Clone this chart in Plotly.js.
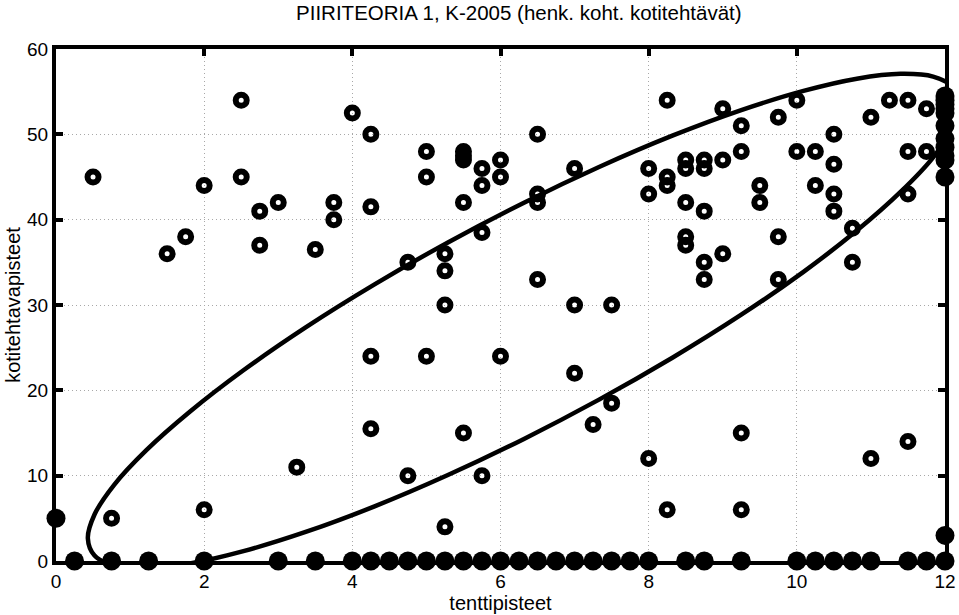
<!DOCTYPE html>
<html>
<head>
<meta charset="utf-8">
<script src="https://cdn.plot.ly/plotly-3.0.1.min.js"></script>
<style>html,body{margin:0;padding:0;background:#fff;}#chart{width:959px;height:615px;}</style>
</head>
<body>
<div id="chart"></div>
<script>
// Ring markers (students with both exam and homework points)
const ringX = [0.5,2.5,2.5,2,1.75,1.5,2.75,3,2.75,3.5,3.75,3.75,4,4.25,4.25,5,5,5.5,5.5,5.5,5.5,5.75,5.75,6,6,5.75,5.25,5.25,4.75,5.25,
  6.5,7,6.5,6.5,6.5,8.25,9,9.25,9.75,10,9.25,9,8,8,8.25,8.25,8.5,8.5,8.75,8.75,8.5,8.75,8.5,8.5,8.75,9,8.75,9.5,9.5,9.75,9.75,10,10.25,10.5,10.5,10.25,10.5,10.5,10.75,10.75,11,11.25,11.5,11.75,11.5,11.75,11.5,
  0.75,2,3.25,4.25,5,6,4.25,5.5,4.75,5.75,5.25,7,7.5,7,7.5,7.25,8,8.25,9.25,9.25,11,11.5];
const ringY = [45,54,45,44,38,36,41,42,37,36.5,42,40,52.5,50,41.5,48,45,48,47.5,47,42,46,44,47,45,38.5,36,34,35,30,
  50,46,43,42,33,54,53,51,52,54,48,47,46,43,45,44,47,46,47,46,42,41,38,37,35,36,33,44,42,38,33,48,48,50,46.5,44,43,41,39,35,52,54,54,53,48,48,43,
  5,6,11,24,24,24,15.5,15,10,10,4,30,30,22,18.5,16,12,6,15,6,12,14];

// Filled markers (points on the plot boundary)
const dotX = [0.25,0.75,1.25,2,3,3.5,4,4.25,4.5,4.75,5,5.25,5.5,5.75,6,6.25,6.5,6.75,7,7.25,7.5,7.75,8,8.5,8.75,9.25,10,10.25,10.5,10.75,11,11.5,11.75,12,
  0,12,12,12,12,12,12,12,12,12,12,12,12];
const dotY = [0,0,0,0,0,0,0,0,0,0,0,0,0,0,0,0,0,0,0,0,0,0,0,0,0,0,0,0,0,0,0,0,0,0,
  5,54.5,54,53.5,53,52.5,51,49.5,48.5,47.5,47,45,3];

// Ellipse outline (closed: first point == last point)
const ellX = [1.22,1.81,2.53,3.37,4.30,5.29,6.31,7.33,8.32,9.25,10.09,10.81,11.40,11.84,12.10,12.19,12.10,11.84,11.40,10.81,10.09,9.25,8.32,7.33,6.31,5.29,4.30,3.37,2.53,1.81,1.22,0.785,0.52,0.43,0.52,0.785,1.22];
const ellY = [-0.85,-0.28,1.15,3.40,6.40,10.07,14.28,18.91,23.82,28.86,33.89,38.72,43.25,47.31,50.79,53.58,55.59,56.77,57.09,56.52,55.09,52.84,49.84,46.17,41.96,37.33,32.42,27.38,22.35,17.52,12.99,8.93,5.45,2.66,0.65,-0.53,-0.85];

const titleText = 'PIIRITEORIA 1, K-2005 (henk. koht. kotitehtävät)';
const xTitle = 'tenttipisteet';
const yTitle = 'kotitehtavapisteet';
const xTicks = [0,2,4,6,8,10,12];
const yTicks = [0,10,20,30,40,50,60];

const font = 'Liberation Sans, Arial, sans-serif';

const traces = [
  {x: ellX, y: ellY, mode: 'lines', type: 'scatter',
   line: {color: '#000', width: 4.5, shape: 'spline', smoothing: 1}, hoverinfo: 'skip'},
  {x: ringX, y: ringY, mode: 'markers', type: 'scatter', cliponaxis: false,
   marker: {symbol: 'circle-open', size: 11, color: '#000', line: {color: '#000', width: 6}}},
  {x: dotX, y: dotY, mode: 'markers', type: 'scatter', cliponaxis: false,
   marker: {symbol: 'circle', size: 19, color: '#000', line: {width: 0}}}
];

const axisCommon = {
  showline: true, linecolor: '#000', linewidth: 4, mirror: 'ticks',
  ticks: 'inside', ticklen: 7, tickwidth: 4, tickcolor: '#000',
  showgrid: true, gridcolor: '#a8a8a8', gridwidth: 1, griddash: '1px,3px',
  zeroline: false, tickfont: {family: font, size: 19, color: '#000'},
  automargin: false
};

const layout = {
  width: 959, height: 615,
  margin: {l: 56, r: 14, t: 49, b: 54},
  paper_bgcolor: '#fff', plot_bgcolor: '#fff',
  showlegend: false,
  title: {text: titleText, font: {family: font, size: 20.5, color: '#000'},
          xref: 'container', x: 0.541, xanchor: 'center', yref: 'container', y: 0.979, yanchor: 'middle'},
  xaxis: Object.assign({}, axisCommon, {range: [0, 12], tickvals: xTicks, ticktext: xTicks.map(String),
    title: {text: xTitle, font: {family: font, size: 20, color: '#000'}, standoff: 6}}),
  yaxis: Object.assign({}, axisCommon, {range: [0, 60], tickvals: yTicks, ticktext: yTicks.map(String),
    title: {text: yTitle, font: {family: font, size: 20, color: '#000'}, standoff: 2}})
};

Plotly.newPlot('chart', traces, layout, {staticPlot: true, displayModeBar: false});
</script>
</body>
</html>
